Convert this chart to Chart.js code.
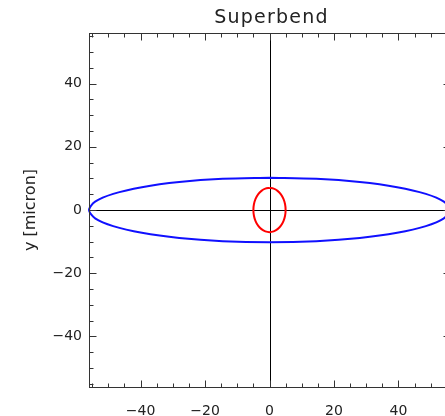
<!DOCTYPE html>
<html>
<head>
<meta charset="utf-8">
<script src="https://cdn.jsdelivr.net/npm/chart.js@4.4.1/dist/chart.umd.min.js"></script>
<style>
  html, body { margin: 0; padding: 0; background: #fff; overflow: hidden; }
  #wrap { position: relative; width: 452px; height: 416px; }
</style>
</head>
<body>
<div id="wrap"><canvas id="chart" width="452" height="416"></canvas></div>
<script>
// beam outlines (micron)
const blueX = [0, -14.5, -28, -39.6, -48.5, -54.1, -56, -54.1, -48.5, -39.6, -28, -14.5, 0, 14.5, 28, 39.6, 48.5, 54.1, 56, 54.1, 48.5, 39.6, 28, 14.5, 0];
const blueY = [10.2, 9.85, 8.83, 7.21, 5.1, 2.64, 0, -2.64, -5.1, -7.21, -8.83, -9.85, -10.2, -9.85, -8.83, -7.21, -5.1, -2.64, 0, 2.64, 5.1, 7.21, 8.83, 9.85, 10.2];
const redX = [0, -1.29, -2.5, -3.54, -4.33, -4.83, -5, -4.83, -4.33, -3.54, -2.5, -1.29, 0, 1.29, 2.5, 3.54, 4.33, 4.83, 5, 4.83, 4.33, 3.54, 2.5, 1.29, 0];
const redY = [7, 6.76, 6.06, 4.95, 3.5, 1.81, 0, -1.81, -3.5, -4.95, -6.06, -6.76, -7, -6.76, -6.06, -4.95, -3.5, -1.81, 0, 1.81, 3.5, 4.95, 6.06, 6.76, 7];

const xTicks = [-40, -20, 0, 20, 40];
const yTicks = [-40, -20, 0, 20, 40];
const axisMin = -56;
const axisMax = 56;

const FONT = 'DejaVu Sans';
const INK = '#222';

function toPoints(xs, ys) {
  return xs.map((x, i) => ({ x: x, y: ys[i] }));
}

function fmt(v) {
  return v < 0 ? '\u2212' + Math.abs(v) : String(v);
}

// crosshair, closed frame with inward ticks, and the title
const framePlugin = {
  id: 'frame',
  beforeDatasetsDraw(chart) {
    const { ctx, chartArea: a, scales: { x, y } } = chart;
    const x0 = Math.round(x.getPixelForValue(0)) + 0.5;
    const y0 = Math.round(y.getPixelForValue(0)) + 0.5;
    ctx.save();
    ctx.strokeStyle = '#000';
    ctx.lineWidth = 1;
    ctx.beginPath();
    ctx.moveTo(x0, a.top);
    ctx.lineTo(x0, a.bottom);
    ctx.moveTo(a.left, y0);
    ctx.lineTo(a.right, y0);
    ctx.stroke();
    ctx.restore();
  },
  afterDraw(chart) {
    const { ctx, chartArea: a, scales: { x, y } } = chart;
    const L = Math.round(a.left) + 0.5, R = Math.round(a.right) + 0.5;
    const T = Math.round(a.top) + 0.5, B = Math.round(a.bottom) + 0.5;
    ctx.save();
    ctx.strokeStyle = '#333';
    ctx.lineWidth = 1;
    ctx.strokeRect(L, T, R - L, B - T);
    ctx.beginPath();
    for (let v = -55; v <= 55; v += 5) {
      const len = v % 20 === 0 ? 7 : 4;
      const px = Math.round(x.getPixelForValue(v)) + 0.5;
      ctx.moveTo(px, B); ctx.lineTo(px, B - len);
      ctx.moveTo(px, T); ctx.lineTo(px, T + len);
      const py = Math.round(y.getPixelForValue(v)) + 0.5;
      ctx.moveTo(L, py); ctx.lineTo(L + len, py);
      ctx.moveTo(R, py); ctx.lineTo(R - len, py);
    }
    ctx.stroke();

    ctx.fillStyle = INK;
    ctx.font = '19px "' + FONT + '"';
    ctx.letterSpacing = '1.2px';
    ctx.textAlign = 'center';
    ctx.textBaseline = 'alphabetic';
    ctx.fillText('Superbend', (a.left + a.right) / 2 + 2, 23);
    ctx.restore();
  }
};

new Chart(document.getElementById('chart'), {
  type: 'scatter',
  data: {
    datasets: [
      {
        data: toPoints(blueX, blueY),
        showLine: true,
        borderColor: '#1010ff',
        borderWidth: 2,
        pointRadius: 0,
        tension: 0.3,
        fill: false,
        clip: false
      },
      {
        data: toPoints(redX, redY),
        showLine: true,
        borderColor: '#ff0000',
        borderWidth: 2,
        pointRadius: 0,
        tension: 0.3,
        fill: false,
        clip: false
      }
    ]
  },
  options: {
    responsive: false,
    animation: false,
    layout: { padding: { top: 33, right: 2, bottom: 0, left: 0 } },
    plugins: {
      legend: { display: false },
      tooltip: { enabled: false },
      title: { display: false }
    },
    scales: {
      x: {
        type: 'linear',
        min: axisMin,
        max: axisMax,
        grid: { display: false, drawTicks: false },
        border: { display: false },
        afterBuildTicks: s => { s.ticks = xTicks.map(v => ({ value: v })); },
        afterFit: s => { s.height = 29; },
        ticks: {
          padding: 16,
          color: INK,
          autoSkip: false,
          maxRotation: 0,
          font: { family: FONT, size: 14 },
          callback: v => fmt(v)
        }
      },
      y: {
        type: 'linear',
        min: axisMin,
        max: axisMax,
        grid: { display: false, drawTicks: false },
        border: { display: false },
        afterBuildTicks: s => { s.ticks = yTicks.map(v => ({ value: v })); },
        afterFit: s => { s.width = 89; },
        ticks: {
          padding: 7,
          color: INK,
          autoSkip: false,
          font: { family: FONT, size: 14 },
          callback: v => fmt(v)
        },
        title: {
          display: true,
          text: 'y [micron]',
          color: INK,
          font: { family: FONT, size: 16 },
          padding: { top: 21, bottom: 0 }
        }
      }
    }
  },
  plugins: [framePlugin]
});
</script>
</body>
</html>
